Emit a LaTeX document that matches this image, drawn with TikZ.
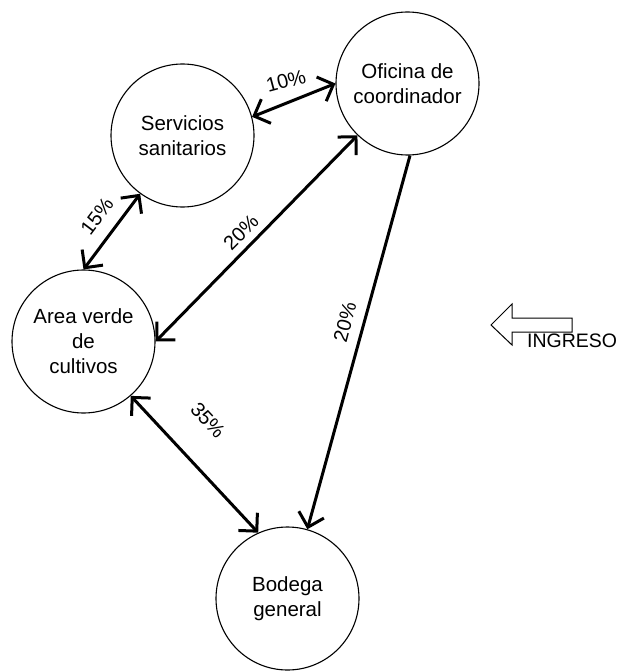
\documentclass[tikz,border=0pt]{standalone}
\usepackage{fontspec}
\setmainfont{Liberation Sans}
\usetikzlibrary{arrows.meta}
\tikzset{
  place/.style={circle,draw,line width=1.1pt,minimum size=143pt,inner sep=0pt,align=center,font=\fontsize{20.5}{25}\selectfont},
  link/.style={line width=3pt,{Straight Barb[length=13pt,width=26pt]}-{Straight Barb[length=13pt,width=26pt]}},
  onelink/.style={line width=3pt,-{Straight Barb[length=13pt,width=26pt]}},
  pct/.style={font=\fontsize{20}{22}\selectfont,inner sep=0pt}
}
\begin{document}
\begin{tikzpicture}[x=1pt,y=-1pt]
\useasboundingbox (0,0) rectangle (627,671);
\node[place] (S) at (182.5,135.5) {Servicios\\sanitarios};
\node[place] (O) at (407.5,83.5) {Oficina de\\coordinador};
\node[place] (A) at (83.5,341.5) {Area verde\\de\\cultivos};
\node[place] (B) at (287.5,598.5) {Bodega\\general};

\draw[link] (S.15) -- (O.180);
\draw[link] (S.-126.5) -- (A.90);
\draw[link] (O.226) -- (A.0);
\draw[onelink] (O.-88) -- (B.74);
\draw[link] (A.-49) -- (B.114);

\node[pct,rotate=15] (p1) at (286,81) {10\%};
\node[pct,rotate=53] (p2) at (97,216) {15\%};
\node[pct,rotate=45] (p3) at (241,232) {20\%};
\node[pct,rotate=75] (p4) at (345,322) {20\%};
\node[pct,rotate=-47] (p5) at (208,420) {35\%};

\draw[line width=1pt,line join=miter] (491,325) -- (512,304) -- (512,318) -- (572,318) -- (572,332) -- (512,332) -- (512,345) -- cycle;
\node[font=\fontsize{19.5}{22}\selectfont,anchor=base west,inner sep=0pt] (ing) at (527,347) {INGRESO};
\end{tikzpicture}
\end{document}
